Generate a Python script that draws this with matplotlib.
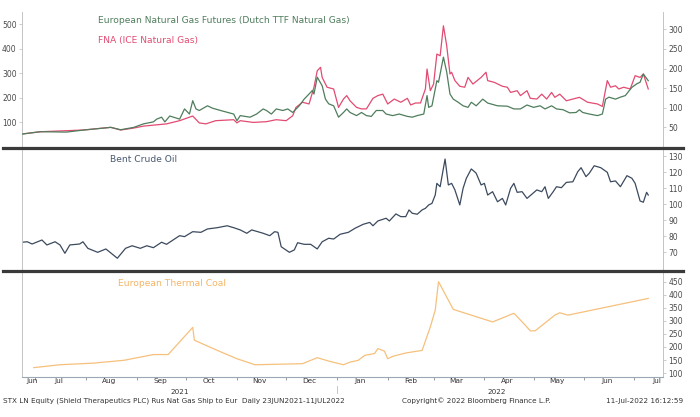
import matplotlib
matplotlib.use("Agg")
import matplotlib.pyplot as plt
from matplotlib.lines import Line2D
import pandas as pd

# --- data ---
# Dutch TTF front month (right axis of top panel)
ttf_dates = ["2021-06-23", "2021-07-04", "2021-07-20", "2021-07-30", "2021-08-16", "2021-08-22",
             "2021-08-30", "2021-09-05", "2021-09-11", "2021-09-13", "2021-09-16", "2021-09-18",
             "2021-09-21", "2021-09-27", "2021-09-30", "2021-10-03", "2021-10-05", "2021-10-07",
             "2021-10-09", "2021-10-14", "2021-10-17", "2021-10-22", "2021-10-30", "2021-11-01",
             "2021-11-03", "2021-11-09", "2021-11-13", "2021-11-17", "2021-11-19", "2021-11-22",
             "2021-11-25", "2021-11-29", "2021-12-02", "2021-12-05", "2021-12-09", "2021-12-12",
             "2021-12-15", "2021-12-17", "2021-12-18", "2021-12-20", "2021-12-23", "2021-12-25",
             "2021-12-27", "2021-12-30", "2022-01-02", "2022-01-05", "2022-01-07", "2022-01-09",
             "2022-01-13", "2022-01-16", "2022-01-19", "2022-01-22", "2022-01-25", "2022-01-29",
             "2022-01-31", "2022-02-04", "2022-02-08", "2022-02-13", "2022-02-16", "2022-02-19",
             "2022-02-23", "2022-02-25", "2022-02-26", "2022-02-28", "2022-03-03", "2022-03-04",
             "2022-03-07", "2022-03-09", "2022-03-11", "2022-03-13", "2022-03-16", "2022-03-19",
             "2022-03-22", "2022-03-24", "2022-03-27", "2022-03-31", "2022-04-03", "2022-04-09",
             "2022-04-15", "2022-04-19", "2022-04-23", "2022-04-27", "2022-05-01", "2022-05-05",
             "2022-05-08", "2022-05-12", "2022-05-15", "2022-05-19", "2022-05-23", "2022-05-27",
             "2022-05-29", "2022-05-31", "2022-06-04", "2022-06-09", "2022-06-12", "2022-06-14",
             "2022-06-16", "2022-06-20", "2022-06-23", "2022-06-26", "2022-06-30", "2022-07-03",
             "2022-07-05", "2022-07-07", "2022-07-10"]
ttf_values = [33, 39, 38, 43, 50, 44, 50, 59, 64, 71, 76, 64, 79, 71, 97, 84, 118, 97, 93, 105,
              99, 93, 84, 67, 80, 76, 84, 97, 93, 84, 97, 93, 97, 88, 105, 122, 135, 144, 135, 178,
              156, 122, 110, 105, 76, 88, 97, 88, 80, 88, 80, 78, 93, 93, 84, 80, 84, 78, 76, 80,
              84, 131, 101, 105, 169, 165, 229, 191, 135, 122, 114, 105, 101, 114, 105, 122, 112,
              105, 104, 97, 97, 107, 101, 105, 97, 105, 97, 95, 87, 88, 95, 88, 84, 80, 84, 122,
              127, 122, 127, 131, 152, 161, 165, 186, 169]

# FNA / ICE natural gas (left axis of top panel)
fna_dates = ["2021-06-23", "2021-07-04", "2021-07-30", "2021-08-16", "2021-08-22", "2021-08-30",
             "2021-09-05", "2021-09-19", "2021-09-27", "2021-10-05", "2021-10-09", "2021-10-13",
             "2021-10-19", "2021-10-30", "2021-11-01", "2021-11-03", "2021-11-11", "2021-11-19",
             "2021-11-25", "2021-12-01", "2021-12-05", "2021-12-07", "2021-12-11", "2021-12-15",
             "2021-12-18", "2021-12-20", "2021-12-22", "2021-12-23", "2021-12-26", "2021-12-30",
             "2022-01-02", "2022-01-05", "2022-01-07", "2022-01-09", "2022-01-13", "2022-01-16",
             "2022-01-19", "2022-01-23", "2022-01-26", "2022-01-29", "2022-02-01", "2022-02-05",
             "2022-02-09", "2022-02-13", "2022-02-15", "2022-02-18", "2022-02-21", "2022-02-24",
             "2022-02-25", "2022-02-27", "2022-03-01", "2022-03-03", "2022-03-05", "2022-03-07",
             "2022-03-09", "2022-03-11", "2022-03-12", "2022-03-14", "2022-03-17", "2022-03-20",
             "2022-03-22", "2022-03-25", "2022-03-30", "2022-04-02", "2022-04-03", "2022-04-07",
             "2022-04-12", "2022-04-15", "2022-04-17", "2022-04-21", "2022-04-23", "2022-04-27",
             "2022-04-29", "2022-05-03", "2022-05-06", "2022-05-09", "2022-05-12", "2022-05-14",
             "2022-05-17", "2022-05-21", "2022-05-25", "2022-05-29", "2022-06-03", "2022-06-09",
             "2022-06-12", "2022-06-15", "2022-06-17", "2022-06-20", "2022-06-22", "2022-06-25",
             "2022-06-29", "2022-07-02", "2022-07-05", "2022-07-07", "2022-07-10"]
fna_values = [53, 62, 69, 80, 69, 77, 85, 94, 107, 126, 98, 94, 107, 111, 98, 107, 100, 103,
              111, 107, 127, 161, 182, 175, 243, 310, 324, 283, 243, 236, 161, 195, 209, 188,
              161, 155, 155, 198, 209, 215, 175, 195, 182, 198, 171, 179, 179, 236, 317, 229,
              256, 378, 371, 493, 412, 297, 304, 270, 247, 243, 283, 256, 283, 304, 270, 263,
              247, 243, 222, 229, 209, 229, 198, 195, 215, 195, 222, 202, 215, 188, 195, 202,
              182, 175, 165, 270, 243, 249, 236, 243, 236, 290, 283, 297, 236]

# Brent crude
brent_dates = ["2021-06-23", "2021-06-26", "2021-06-29", "2021-07-05", "2021-07-08", "2021-07-13",
               "2021-07-16", "2021-07-19", "2021-07-22", "2021-07-28", "2021-07-30", "2021-08-02",
               "2021-08-08", "2021-08-13", "2021-08-20", "2021-08-25", "2021-08-29", "2021-09-03",
               "2021-09-07", "2021-09-11", "2021-09-16", "2021-09-19", "2021-09-27", "2021-09-30",
               "2021-10-05", "2021-10-10", "2021-10-14", "2021-10-20", "2021-10-26", "2021-10-30",
               "2021-11-03", "2021-11-07", "2021-11-10", "2021-11-17", "2021-11-21", "2021-11-24",
               "2021-11-26", "2021-11-28", "2021-12-03", "2021-12-06", "2021-12-08", "2021-12-12",
               "2021-12-16", "2021-12-20", "2021-12-23", "2021-12-27", "2021-12-30", "2022-01-03",
               "2022-01-08", "2022-01-12", "2022-01-17", "2022-01-21", "2022-01-23", "2022-01-26",
               "2022-01-31", "2022-02-02", "2022-02-06", "2022-02-09", "2022-02-12", "2022-02-14",
               "2022-02-16", "2022-02-19", "2022-02-22", "2022-02-24", "2022-02-26", "2022-02-28",
               "2022-03-02", "2022-03-03", "2022-03-05", "2022-03-08", "2022-03-10", "2022-03-12",
               "2022-03-14", "2022-03-17", "2022-03-19", "2022-03-21", "2022-03-24", "2022-03-26",
               "2022-03-27", "2022-03-30", "2022-04-01", "2022-04-03", "2022-04-06", "2022-04-09",
               "2022-04-12", "2022-04-14", "2022-04-17", "2022-04-19", "2022-04-21", "2022-04-24",
               "2022-04-27", "2022-05-03", "2022-05-06", "2022-05-08", "2022-05-10", "2022-05-13",
               "2022-05-15", "2022-05-18", "2022-05-21", "2022-05-25", "2022-05-28", "2022-05-30",
               "2022-06-02", "2022-06-04", "2022-06-07", "2022-06-11", "2022-06-15", "2022-06-17",
               "2022-06-20", "2022-06-23", "2022-06-27", "2022-06-30", "2022-07-02", "2022-07-05",
               "2022-07-07", "2022-07-09", "2022-07-10"]
brent_values = [76.1, 76.4, 75.0, 77.5, 74.4, 76.4, 74.4, 69.2, 74.4, 75.0, 76.4, 72.3, 69.8,
                71.9, 66.1, 72.3, 73.9, 72.3, 73.9, 72.7, 76.1, 74.8, 80.2, 79.6, 82.7, 82.3,
                84.4, 85.2, 86.4, 85.2, 83.8, 81.7, 83.8, 81.7, 80.2, 82.7, 82.3, 73.3, 69.8,
                71.3, 75.8, 74.8, 74.8, 71.9, 76.4, 78.6, 78.1, 81.1, 82.3, 84.8, 87.3, 88.5,
                86.4, 89.4, 91.1, 89.4, 93.8, 92.1, 92.1, 96.3, 94.2, 93.6, 96.3, 97.3, 99.4,
                100.4, 105.6, 112.9, 110.8, 128.1, 111.9, 112.9, 108.8, 99.4, 109.8, 116.1,
                121.9, 120.2, 119.2, 111.9, 112.9, 105.6, 107.7, 101.4, 103.5, 99.4, 109.8,
                112.9, 107.3, 107.7, 103.5, 108.8, 107.7, 110.8, 103.5, 107.7, 110.8, 110.2,
                113.5, 113.9, 120.2, 122.7, 117.1, 119.2, 123.9, 122.7, 119.8, 113.9, 114.4,
                110.8, 117.7, 116.1, 112.9, 101.9, 101.1, 107.3, 105.6]

# European thermal coal
coal_dates = ["2021-06-30", "2021-07-16", "2021-08-05", "2021-08-24", "2021-09-11", "2021-09-20",
              "2021-10-05", "2021-10-06", "2021-10-20", "2021-11-01", "2021-11-12", "2021-12-11",
              "2021-12-20", "2021-12-27", "2022-01-05", "2022-01-09", "2022-01-14", "2022-01-18",
              "2022-01-24", "2022-01-26", "2022-01-30", "2022-02-01", "2022-02-04", "2022-02-12",
              "2022-02-22", "2022-02-27", "2022-03-02", "2022-03-04", "2022-03-13", "2022-04-06",
              "2022-04-19", "2022-04-25", "2022-04-29", "2022-05-02", "2022-05-14", "2022-05-17",
              "2022-05-22", "2022-07-10"]
coal_values = [121, 132, 138, 149, 171, 171, 275, 226, 187, 155, 132, 136, 159, 146, 132, 142,
               149, 168, 175, 194, 184, 155, 164, 177, 187, 277, 341, 450, 344, 296, 329, 290,
               262, 262, 322, 331, 322, 386]

month_labels = ["Jun", "Jul", "Aug", "Sep", "Oct", "Nov", "Dec",
                "Jan", "Feb", "Mar", "Apr", "May", "Jun", "Jul"]
label_dates = ["2021-06-29", "2021-07-15", "2021-08-15", "2021-09-15", "2021-10-15",
               "2021-11-15", "2021-12-15", "2022-01-15", "2022-02-15", "2022-03-15",
               "2022-04-15", "2022-05-15", "2022-06-15", "2022-07-15"]

ttf_col = "#4f7d5c"
fna_col = "#e24b72"
brent_col = "#3c4a5e"
coal_col = "#f6c07c"
tick_col = "#4a4a4a"
axis_col = "#c4c4c4"

plt.rcParams["font.family"] = "DejaVu Sans"

fig = plt.figure(figsize=(7.0, 4.17), dpi=100)
W, H = 700.0, 417.0
left, right = 22.3 / W, 663.0 / W

def box(top, bottom):
    return [left, 1 - bottom / H, right - left, (bottom - top) / H]

ax1 = fig.add_axes(box(12, 147))
ax1r = ax1.twinx()
ax2 = fig.add_axes(box(148, 270), sharex=ax1)
ax3 = fig.add_axes(box(271, 376.5), sharex=ax1)

ax1.plot(pd.to_datetime(fna_dates), fna_values, color=fna_col, lw=0.9)
ax1r.plot(pd.to_datetime(ttf_dates), ttf_values, color=ttf_col, lw=0.9)
ax2.plot(pd.to_datetime(brent_dates), brent_values, color=brent_col, lw=0.9)
ax3.plot(pd.to_datetime(coal_dates), coal_values, color=coal_col, lw=0.9)

ax1.set_ylim(0, 549)
ax1r.set_ylim(0, 344)
ax2.set_ylim(58.75, 135)
ax3.set_ylim(87, 491)
ax3.set_xlim(pd.Timestamp("2021-06-23"), pd.Timestamp("2022-07-19"))

for ax in (ax1, ax1r, ax2, ax3):
    for s in ax.spines.values():
        s.set_visible(False)
    ax.tick_params(axis="both", colors=axis_col, labelcolor=tick_col, labelsize=5.5,
                   length=2.5, width=0.6, pad=1.5)
    ax.patch.set_alpha(0)

for ax in (ax1, ax2, ax3):
    ax.spines["left"].set_visible(True)
    ax.spines["left"].set_color(axis_col)
    ax.spines["left"].set_linewidth(0.7)
for ax in (ax1r, ax2, ax3):
    ax.spines["right"].set_visible(True)
    ax.spines["right"].set_color(axis_col)
    ax.spines["right"].set_linewidth(0.7)

# y ticks
ax1.set_yticks([100, 200, 300, 400, 500])
ax1r.set_yticks([50, 100, 150, 200, 250, 300])
ax2.yaxis.tick_right()
ax2.set_yticks([70, 80, 90, 100, 110, 120, 130])
ax3.yaxis.tick_right()
ax3.set_yticks([100, 150, 200, 250, 300, 350, 400, 450])

# x ticks: month starts as ticks, mid-month labels
ax3.spines["bottom"].set_visible(True)
ax3.spines["bottom"].set_color("#9aa7b4")
ax3.spines["bottom"].set_linewidth(0.8)
ax3.set_xticks(pd.date_range("2021-07-01", "2022-07-01", freq="MS"))
ax3.set_xticklabels([])
ax3.set_xticks(pd.to_datetime(label_dates), minor=True)
ax3.set_xticklabels(month_labels, minor=True)
ax3.tick_params(axis="x", which="major", length=2.5, colors="#8a8a8a")
ax3.tick_params(axis="x", which="minor", length=0, labelsize=5.3, labelcolor="#333333", pad=1.2)
for ax in (ax1, ax1r, ax2):
    ax.tick_params(axis="x", which="both", bottom=False, labelbottom=False)

# series names
fig.text(98 / W, 1 - 20.7 / H, "European Natural Gas Futures (Dutch TTF Natural Gas)",
         color=ttf_col, fontsize=6.6, va="center")
fig.text(98 / W, 1 - 40.7 / H, "FNA (ICE Natural Gas)", color=fna_col, fontsize=6.6, va="center")
fig.text(110 / W, 1 - 160 / H, "Bent Crude Oil", color="#4a5a72", fontsize=6.6, va="center")
fig.text(118 / W, 1 - 283 / H, "European Thermal Coal", color="#f3b565", fontsize=6.6, va="center")

# thick panel separators
for yy in (147.5, 270.5):
    fig.add_artist(Line2D([0.004, 683 / W], [1 - yy / H] * 2, color="#3a3a3a", lw=2.3,
                          transform=fig.transFigure))

# years and footer
fig.text(180 / W, 1 - 391.5 / H, "2021", fontsize=5.2, color="#333333", ha="center", va="center")
fig.text(497 / W, 1 - 391.5 / H, "2022", fontsize=5.2, color="#333333", ha="center", va="center")
fig.add_artist(Line2D([337 / W] * 2, [1 - 386 / H, 1 - 393 / H], color="#bbbbbb", lw=0.6,
                      transform=fig.transFigure))
fig.text(3 / W, 1 - 401 / H,
         "STX LN Equity (Shield Therapeutics PLC) Rus Nat Gas Ship to Eur  Daily 23JUN2021-11JUL2022",
         fontsize=5.2, color="#333333", va="center")
fig.text(401.7 / W, 1 - 401 / H, "Copyright\u00a9 2022 Bloomberg Finance L.P.",
         fontsize=5.2, color="#333333", va="center")
fig.text(683 / W, 1 - 401 / H, "11-Jul-2022 16:12:59", fontsize=5.2, color="#333333",
         va="center", ha="right")

fig.savefig("out.png", dpi=100)
